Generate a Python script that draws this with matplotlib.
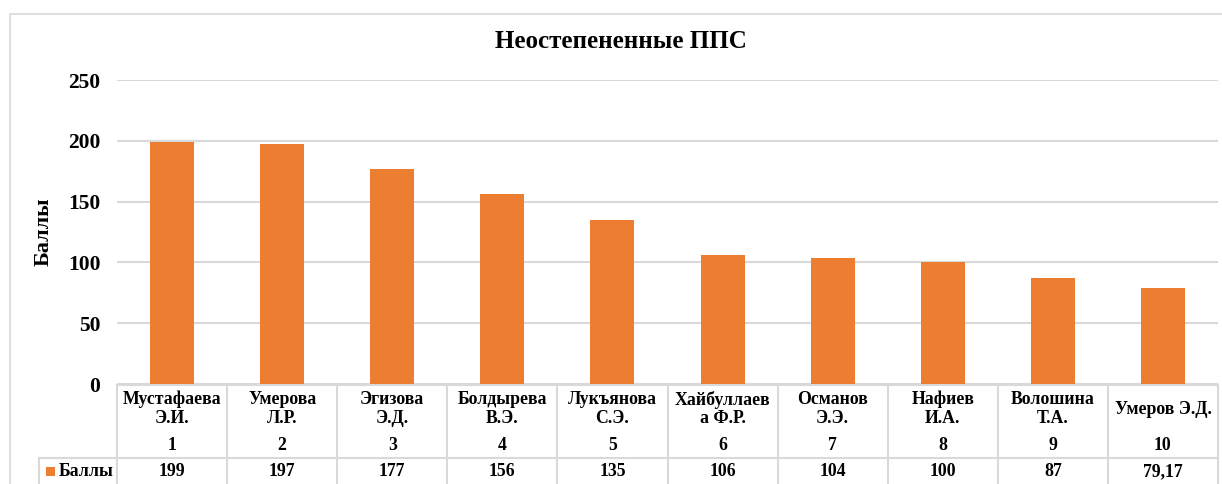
import matplotlib
matplotlib.use('Agg')
import matplotlib.pyplot as plt
from matplotlib.patches import Rectangle
import matplotlib.transforms as mtrans

plt.rcParams['font.family'] = ['Liberation Serif', 'DejaVu Serif']
plt.rcParams['font.weight'] = 'bold'

names = ['Мустафаева\nЭ.И.', 'Умерова\nЛ.Р.', 'Эгизова\nЭ.Д.', 'Болдырева\nВ.Э.',
         'Лукъянова\nС.Э.', 'Хайбуллаев\nа Ф.Р.', 'Османов\nЭ.Э.', 'Нафиев\nИ.А.',
         'Волошина\nТ.А.', 'Умеров Э.Д.']
ranks = ['1', '2', '3', '4', '5', '6', '7', '8', '9', '10']
scores = [199, 197, 177, 156, 135, 106, 104, 100, 87, 79.17]
score_labels = ['199', '197', '177', '156', '135', '106', '104', '100', '87', '79,17']
yticks = [0, 50, 100, 150, 200, 250]

W, H = 1222, 484
orange = '#ED7D31'
grid_c = '#D9D9D9'

fig = plt.figure(figsize=(W / 100, H / 100), dpi=100)

# chart frame
fig.patches.append(Rectangle((10 / W, -0.1), 1.2, (H - 14) / H + 0.1, transform=fig.transFigure,
                             fill=False, edgecolor=grid_c, linewidth=1.2))

# plot area in pixels
x0, x1 = 117, 1218
ytop, ybot = 80, 384
ax = fig.add_axes([x0 / W, (H - ybot) / H, (x1 - x0) / W, (ybot - ytop) / H])

xs = list(range(len(scores)))
ax.bar(xs, scores, width=0.4, color=orange, zorder=3)
ax.set_xlim(-0.5, len(scores) - 0.5)
ax.set_ylim(0, 250)
ax.set_yticks(yticks)
ax.tick_params(axis='y', length=0, pad=12, labelsize=15.5)
ax.set_xticks([])
ax.yaxis.grid(True, color=grid_c, linewidth=1.5, zorder=0)
for s in ax.spines.values():
    s.set_visible(False)
ax.set_ylabel('Баллы', fontsize=16, fontweight='bold')
ax.yaxis.set_label_coords(-(x0 - 54) / (x1 - x0), 0.5)

fig.text(621 / W, 1 - 41 / H, 'Неостепененные ППС', ha='center', va='center',
         fontsize=18, fontweight='bold')

# data table below the axis: x in data units, y in pixels from top
def py(p):
    return (ybot - p) / (ybot - ytop)

tr = mtrans.blended_transform_factory(ax.transData, ax.transAxes)
line_kw = dict(color=grid_c, linewidth=1.5, clip_on=False)
ax.plot([-0.5, len(scores) - 0.5], [py(385), py(385)], transform=tr, **line_kw)
for i in range(len(scores) + 1):
    ax.plot([i - 0.5, i - 0.5], [py(385), py(490)], transform=tr, **line_kw)
lx = -0.5 - (x0 - 39) / ((x1 - x0) / len(scores))
ax.plot([lx, len(scores) - 0.5], [py(458), py(458)], transform=tr, **line_kw)
ax.plot([lx, lx], [py(458), py(490)], transform=tr, **line_kw)

fs = 12.8
for i in xs:
    ax.text(i, py(409), names[i], transform=tr, ha='center', va='center',
            fontsize=fs, fontweight='bold', linespacing=1.15)
    ax.text(i, py(446), ranks[i], transform=tr, ha='center', va='center',
            fontsize=fs, fontweight='bold')
    ax.text(i, py(472), score_labels[i], transform=tr, ha='center', va='center',
            fontsize=fs, fontweight='bold')

# legend key cell
fig.patches.append(Rectangle((46 / W, 1 - 476 / H), 9 / W, 9 / H, transform=fig.transFigure,
                             facecolor=orange, edgecolor='none'))
fig.text(59 / W, 1 - 472 / H, 'Баллы', ha='left', va='center', fontsize=fs, fontweight='bold')

fig.savefig('out.png', dpi=100)
